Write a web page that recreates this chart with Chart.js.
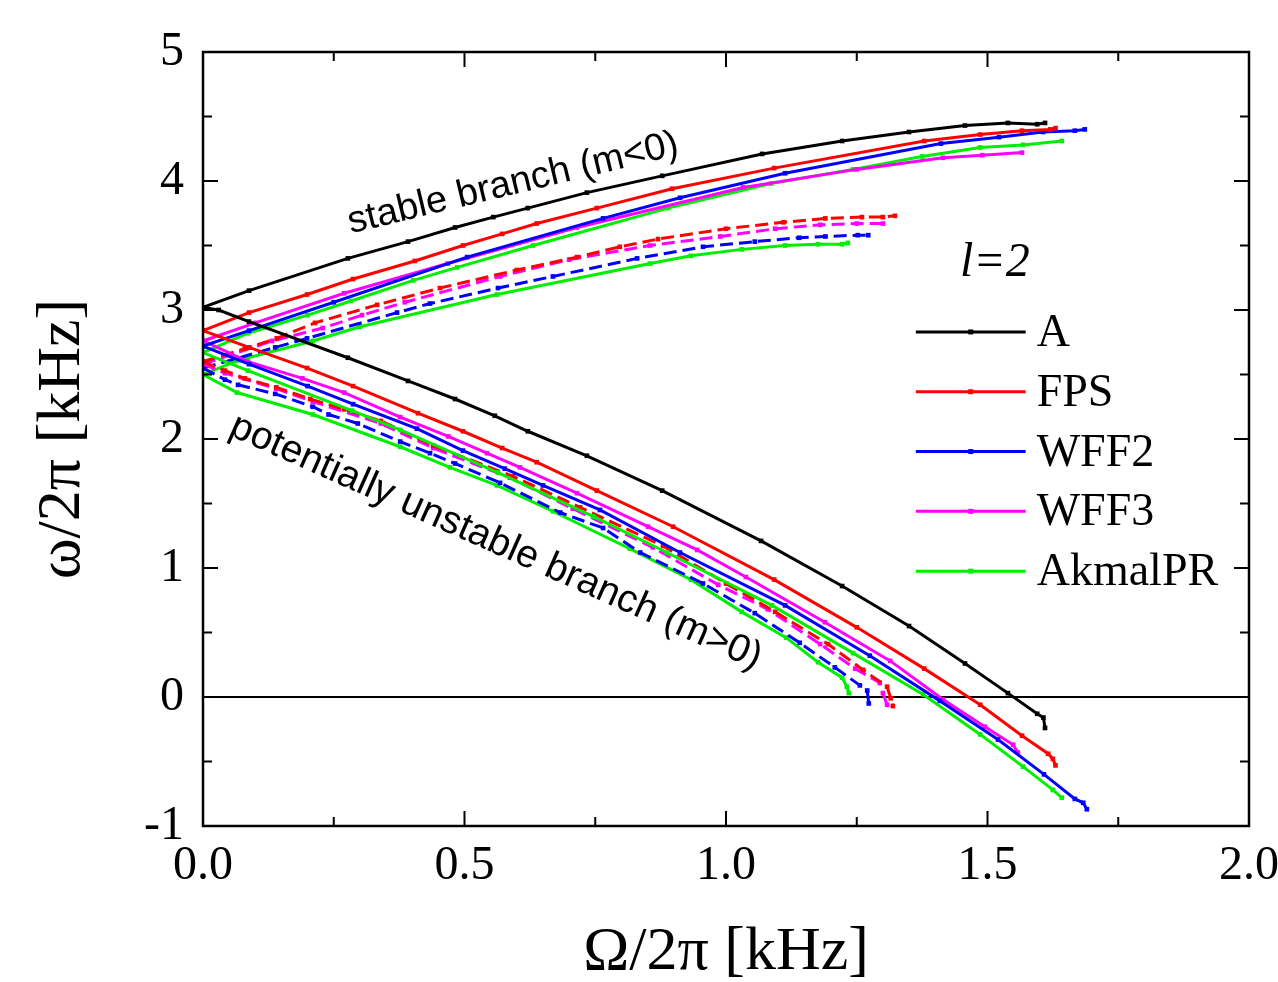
<!DOCTYPE html>
<html>
<head>
<meta charset="utf-8">
<script src="https://cdn.jsdelivr.net/npm/chart.js@4.4.0/dist/chart.umd.min.js"></script>
<style>
  html, body { margin: 0; padding: 0; background: #fff; }
  #wrap { width: 1278px; height: 982px; }
</style>
</head>
<body>
<div id="wrap"><canvas id="modeChart" width="1278" height="982"></canvas></div>
<script>
// l=2 f-mode frequencies, omega/2pi vs Omega/2pi, both in kHz
// each curve is a list of [Omega, omega] pairs

const A_up = [[0,3.02],[0.088,3.15],[0.277,3.40],[0.392,3.53],[0.482,3.64],[0.555,3.72],[0.621,3.79],[0.734,3.91],[0.878,4.04],[1.069,4.21],[1.222,4.31],[1.35,4.38],[1.457,4.43],[1.539,4.45],[1.595,4.44],[1.61,4.45]];
const A_dn = [[0,3.02],[0.03,3.0],[0.088,2.91],[0.277,2.63],[0.392,2.45],[0.482,2.31],[0.558,2.18],[0.621,2.06],[0.734,1.87],[0.878,1.60],[1.067,1.21],[1.222,0.86],[1.35,0.55],[1.457,0.26],[1.539,0.03],[1.595,-0.13],[1.607,-0.16],[1.61,-0.24]];

const FPS_up = [[0,2.84],[0.088,2.98],[0.199,3.12],[0.287,3.24],[0.405,3.38],[0.497,3.50],[0.572,3.59],[0.638,3.67],[0.753,3.79],[0.897,3.94],[1.092,4.10],[1.379,4.31],[1.486,4.36],[1.566,4.39],[1.62,4.40],[1.63,4.41]];
const FPS_dn = [[0,2.84],[0.088,2.71],[0.199,2.55],[0.287,2.41],[0.411,2.20],[0.497,2.06],[0.572,1.93],[0.638,1.82],[0.753,1.60],[0.899,1.32],[1.092,0.91],[1.25,0.54],[1.379,0.22],[1.486,-0.06],[1.566,-0.30],[1.616,-0.44],[1.625,-0.48],[1.63,-0.53]];

const WFF2_up = [[0,2.72],[0.088,2.84],[0.25,3.06],[0.505,3.41],[0.765,3.71],[0.912,3.87],[1.113,4.06],[1.411,4.29],[1.522,4.34],[1.606,4.38],[1.667,4.39],[1.686,4.40]];
const WFF2_dn = [[0,2.72],[0.088,2.58],[0.2,2.41],[0.287,2.27],[0.409,2.08],[0.497,1.91],[0.577,1.77],[0.65,1.64],[0.759,1.45],[0.912,1.12],[1.113,0.71],[1.275,0.32],[1.409,-0.03],[1.52,-0.33],[1.608,-0.60],[1.667,-0.79],[1.683,-0.82],[1.69,-0.87]];

const WFF3_up = [[0,2.76],[0.1,2.90],[0.27,3.13],[0.468,3.36],[0.715,3.64],[1.033,3.95],[1.25,4.09],[1.415,4.18],[1.49,4.20],[1.566,4.22]];
const WFF3_dn = [[0,2.76],[0.086,2.60],[0.19,2.47],[0.27,2.36],[0.377,2.17],[0.469,2.02],[0.543,1.89],[0.606,1.78],[0.715,1.58],[0.851,1.32],[0.945,1.14],[1.038,0.93],[1.189,0.58],[1.314,0.28],[1.415,-0.02],[1.495,-0.23],[1.549,-0.37],[1.558,-0.43]];

const Akmal_up = [[0,2.67],[0.086,2.82],[0.2,2.96],[0.283,3.07],[0.402,3.23],[0.486,3.33],[0.631,3.50],[0.889,3.79],[1.086,3.98],[1.243,4.09],[1.375,4.19],[1.486,4.26],[1.568,4.28],[1.642,4.31]];
const Akmal_dn = [[0,2.67],[0.086,2.53],[0.285,2.22],[0.377,2.07],[0.564,1.74],[0.746,1.40],[0.887,1.12],[1.088,0.71],[1.243,0.34],[1.377,0.02],[1.486,-0.29],[1.568,-0.54],[1.625,-0.72],[1.642,-0.78]];

// second (shorter) set of curves
const FPS2_up = [[0,2.60],[0.08,2.70],[0.141,2.78],[0.214,2.90],[0.333,3.04],[0.453,3.17],[0.6,3.31],[0.715,3.41],[0.797,3.49],[0.87,3.55],[1.0,3.63],[1.11,3.68],[1.19,3.71],[1.26,3.72],[1.30,3.72],[1.323,3.73]];
const FPS2_dn = [[0,2.60],[0.042,2.53],[0.08,2.47],[0.14,2.40],[0.205,2.31],[0.27,2.23],[0.34,2.14],[0.44,1.95],[0.593,1.71],[0.721,1.47],[0.88,1.17],[1.0,0.88],[1.094,0.66],[1.195,0.41],[1.262,0.21],[1.308,0.08],[1.315,-0.01],[1.319,-0.07]];

const WFF3_2_up = [[0,2.58],[0.132,2.76],[0.229,2.86],[0.304,2.96],[0.386,3.06],[0.568,3.26],[0.70,3.39],[0.855,3.50],[0.989,3.57],[1.094,3.63],[1.18,3.66],[1.25,3.67],[1.30,3.67]];
const WFF3_2_dn = [[0,2.58],[0.042,2.51],[0.14,2.39],[0.21,2.29],[0.34,2.12],[0.44,1.93],[0.587,1.70],[0.707,1.46],[0.86,1.16],[0.985,0.87],[1.08,0.68],[1.18,0.41],[1.247,0.22],[1.294,0.11],[1.30,0.03],[1.308,-0.06]];

const WFF2_2_up = [[0,2.55],[0.138,2.71],[0.199,2.78],[0.371,2.98],[0.434,3.05],[0.564,3.17],[0.669,3.26],[0.83,3.40],[0.956,3.49],[1.055,3.53],[1.14,3.56],[1.19,3.57],[1.252,3.58],[1.272,3.58]];
const WFF2_2_dn = [[0,2.55],[0.042,2.46],[0.067,2.42],[0.138,2.35],[0.21,2.25],[0.24,2.19],[0.296,2.12],[0.377,1.98],[0.434,1.89],[0.482,1.81],[0.568,1.66],[0.683,1.43],[0.765,1.31],[0.836,1.12],[0.956,0.88],[1.055,0.65],[1.141,0.42],[1.208,0.23],[1.256,0.09],[1.27,0.05],[1.273,-0.05]];

const Akmal2_up = [[0,2.50],[0.067,2.61],[0.21,2.76],[0.3,2.87],[0.562,3.12],[0.855,3.36],[0.933,3.42],[1.03,3.47],[1.113,3.50],[1.176,3.51],[1.222,3.51],[1.233,3.52]];
const Akmal2_dn = [[0,2.50],[0.065,2.36],[0.21,2.19],[0.377,1.94],[0.472,1.78],[0.562,1.64],[0.669,1.44],[0.816,1.15],[0.933,0.91],[1.03,0.66],[1.115,0.46],[1.176,0.27],[1.222,0.15],[1.231,0.08],[1.235,0.03]];

const eosNames = ['A', 'FPS', 'WFF2', 'WFF3', 'AkmalPR'];
const eosColors = ['#000000', '#ff0000', '#0000ff', '#ff00ff', '#00ee00'];

const xTicks = [0, 0.5, 1.0, 1.5, 2.0];
const yTicks = [-1, 0, 1, 2, 3, 4, 5];

// [eos index, points, dashed]
const curves = [
  [0, A_up, false], [0, A_dn, false],
  [1, FPS_up, false], [1, FPS_dn, false],
  [2, WFF2_up, false], [2, WFF2_dn, false],
  [3, WFF3_up, false], [3, WFF3_dn, false],
  [4, Akmal_up, false], [4, Akmal_dn, false],
  [1, FPS2_up, true], [1, FPS2_dn, true],
  [3, WFF3_2_up, true], [3, WFF3_2_dn, true],
  [2, WFF2_2_up, true], [2, WFF2_2_dn, true],
  [4, Akmal2_up, false], [4, Akmal2_dn, false]
];

const datasets = curves.map(([k, pts, dashed]) => ({
  label: eosNames[k],
  data: pts.map(p => ({ x: p[0], y: p[1] })),
  showLine: true,
  borderColor: eosColors[k],
  backgroundColor: eosColors[k],
  borderWidth: 3,
  borderDash: dashed ? [13, 6] : [],
  pointStyle: 'rect',
  pointRadius: 3.3,
  pointBorderWidth: 0,
  tension: 0
}));

const SERIF = '"Liberation Serif", "Times New Roman", serif';
const SANS = '"Liberation Sans", Arial, sans-serif';

// frame, inward ticks on all four sides, zero line, annotations, legend
const decorations = {
  id: 'decorations',
  beforeDatasetsDraw(chart) {
    const { ctx, chartArea: a, scales: { y } } = chart;
    const y0 = y.getPixelForValue(0);
    ctx.save();
    ctx.strokeStyle = '#000';
    ctx.lineWidth = 2;
    ctx.beginPath();
    ctx.moveTo(a.left, y0);
    ctx.lineTo(a.right, y0);
    ctx.stroke();
    ctx.restore();
  },
  afterDraw(chart) {
    const { ctx, chartArea: a, scales: { x, y } } = chart;
    ctx.save();
    ctx.strokeStyle = '#000';
    ctx.lineWidth = 2.5;
    ctx.strokeRect(a.left, a.top, a.right - a.left, a.bottom - a.top);

    ctx.lineWidth = 2;
    ctx.beginPath();
    for (let v = 0; v <= 2.0001; v += 0.25) {
      const px = x.getPixelForValue(v);
      const len = Math.abs(v / 0.5 - Math.round(v / 0.5)) < 1e-6 ? 15 : 9;
      ctx.moveTo(px, a.bottom); ctx.lineTo(px, a.bottom - len);
      ctx.moveTo(px, a.top); ctx.lineTo(px, a.top + len);
    }
    for (let v = -1; v <= 5.0001; v += 0.5) {
      const py = y.getPixelForValue(v);
      const len = Math.abs(v - Math.round(v)) < 1e-6 ? 15 : 9;
      ctx.moveTo(a.left, py); ctx.lineTo(a.left + len, py);
      ctx.moveTo(a.right, py); ctx.lineTo(a.right - len, py);
    }
    ctx.stroke();

    ctx.fillStyle = '#000';
    ctx.textAlign = 'center';
    ctx.textBaseline = 'middle';

    ctx.font = '38px ' + SANS;
    ctx.save();
    ctx.translate(x.getPixelForValue(0.593), y.getPixelForValue(3.98));
    ctx.rotate(-13.5 * Math.PI / 180);
    ctx.fillText('stable branch (m<0)', 0, 0);
    ctx.restore();

    ctx.font = '39px ' + SANS;
    ctx.save();
    ctx.translate(x.getPixelForValue(0.56), y.getPixelForValue(1.2));
    ctx.rotate(24 * Math.PI / 180);
    ctx.fillText('potentially unstable branch (m>0)', 0, 0);
    ctx.restore();

    ctx.font = 'italic 48px ' + SERIF;
    ctx.fillText('l=2', x.getPixelForValue(1.514), y.getPixelForValue(3.36));

    // legend
    const lx0 = x.getPixelForValue(1.363);
    const lx1 = x.getPixelForValue(1.573);
    ctx.font = '46px ' + SERIF;
    ctx.textAlign = 'left';
    eosNames.forEach((name, i) => {
      const ly = y.getPixelForValue(2.83) + i * 59.8;
      ctx.strokeStyle = eosColors[i];
      ctx.fillStyle = eosColors[i];
      ctx.lineWidth = 3;
      ctx.beginPath();
      ctx.moveTo(lx0, ly); ctx.lineTo(lx1, ly);
      ctx.stroke();
      ctx.fillRect((lx0 + lx1) / 2 - 2.5, ly - 2.5, 5, 5);
      ctx.fillStyle = '#000';
      ctx.fillText(name, lx1 + 11, ly + 2);
    });
    ctx.restore();
  }
};

new Chart(document.getElementById('modeChart'), {
  type: 'scatter',
  data: { datasets },
  options: {
    responsive: false,
    animation: false,
    devicePixelRatio: 1,
    events: [],
    layout: { padding: { left: 0, top: 52, right: 29, bottom: 0 } },
    plugins: { legend: { display: false }, tooltip: { enabled: false } },
    scales: {
      x: {
        type: 'linear', min: 0, max: 2,
        afterBuildTicks: s => { s.ticks = xTicks.map(v => ({ value: v })); },
        afterFit: s => { s.height = 156; s.paddingLeft = 0; s.paddingRight = 0; },
        grid: { display: false, drawTicks: false },
        border: { display: false },
        ticks: { color: '#000', padding: 12, font: { family: SERIF, size: 48 }, callback: v => v.toFixed(1) },
        title: { display: true, text: 'Ω/2π [kHz]', color: '#000', font: { family: SERIF, size: 62 }, padding: { top: 0, bottom: -8 } }
      },
      y: {
        type: 'linear', min: -1, max: 5,
        afterBuildTicks: s => { s.ticks = yTicks.map(v => ({ value: v })); },
        afterFit: s => { s.width = 203; s.paddingTop = 0; s.paddingBottom = 0; },
        grid: { display: false, drawTicks: false },
        border: { display: false },
        ticks: { color: '#000', padding: 19, font: { family: SERIF, size: 48 }, callback: v => String(v) },
        title: { display: true, text: 'ω/2π [kHz]', color: '#000', font: { family: SERIF, size: 62 }, padding: { top: 26, bottom: 0 } }
      }
    }
  },
  plugins: [decorations]
});
</script>
</body>
</html>
